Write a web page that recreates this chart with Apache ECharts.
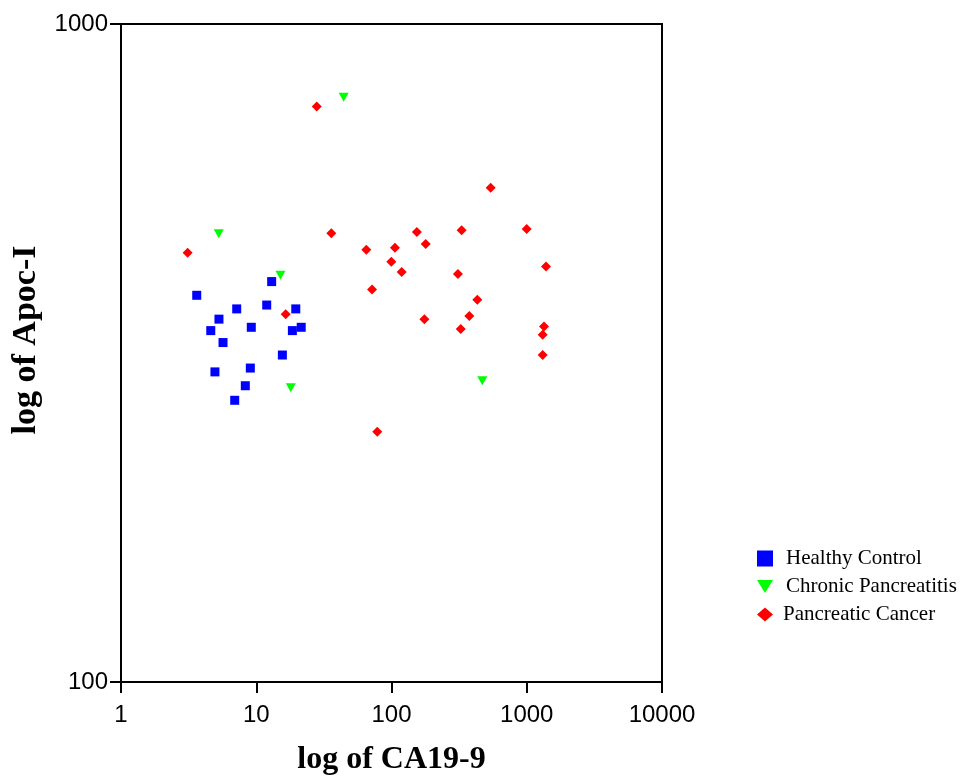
<!DOCTYPE html>
<html>
<head>
<meta charset="utf-8">
<script src="https://cdn.jsdelivr.net/npm/echarts@6/dist/echarts.min.js"></script>
<style>
html,body{margin:0;padding:0;background:#fff;}
#chart{width:965px;height:782px;}
</style>
</head>
<body>
<div id="chart"></div>
<script>
// Healthy Control
var hcX = [3.63, 13.0, 7.17, 11.95, 19.6, 5.30, 4.61, 9.19, 18.5, 21.5, 5.68, 15.6, 4.95, 9.04, 8.30, 6.93];
var hcY = [387, 406, 369, 374, 369, 356, 342, 346, 342, 346, 328, 314, 296, 300, 282, 268];
// Chronic Pancreatitis
var cpX = [5.28, 15.1, 18.0, 44.3, 469];
var cpY = [480, 415, 280, 774, 287];
// Pancreatic Cancer
var pcX = [3.11, 16.5, 28.0, 541, 35.9, 154, 330, 999, 65.1, 106, 179, 99.7, 119, 310, 1388, 71.8, 431, 376, 175, 325, 1341, 1312, 1312, 78.5];
var pcY = [449, 362, 749, 564, 481, 483, 486, 488, 454, 457, 463, 435, 420, 417, 428, 395, 381, 360, 356, 344, 347, 337, 314, 240];

var seriesNames = ['Healthy Control', 'Chronic Pancreatitis', 'Pancreatic Cancer'];
var xName = 'log of CA19-9';
var yName = 'log of Apoc-I';

function pairs(xs, ys) { return xs.map(function (x, i) { return [x, ys[i]]; }); }

var triPath = 'path://M0,0L16,0L8,13Z';

var chart = echarts.init(document.getElementById('chart'), null, {renderer: 'canvas'});
var labelFmt = function (v) { return String(Math.round(v)); };
chart.setOption({
  backgroundColor: '#ffffff',
  animation: false,
  grid: {left: 121, right: 303, top: 24, bottom: 100, show: true, borderColor: '#000', borderWidth: 2, backgroundColor: 'transparent'},
  xAxis: {
    type: 'log', logBase: 10, min: 1, max: 10000,
    name: xName, nameLocation: 'middle', nameGap: 62,
    nameTextStyle: {fontFamily: 'Liberation Serif', fontWeight: 'bold', fontSize: 32, color: '#000'},
    axisLine: {show: true, lineStyle: {color: '#000', width: 2}},
    axisTick: {show: true, length: 11, lineStyle: {color: '#000', width: 2}},
    minorTick: {show: false},
    splitLine: {show: false},
    axisLabel: {formatter: labelFmt, fontFamily: 'Liberation Sans', fontSize: 24, color: '#000', margin: 21}
  },
  yAxis: {
    type: 'log', logBase: 10, min: 100, max: 1000,
    name: yName, nameLocation: 'middle', nameGap: 76,
    nameTextStyle: {fontFamily: 'Liberation Serif', fontWeight: 'bold', fontSize: 34, color: '#000', padding: [0, 0, 0, 26]},
    axisLine: {show: true, lineStyle: {color: '#000', width: 2}},
    axisTick: {show: true, length: 11, lineStyle: {color: '#000', width: 2}},
    minorTick: {show: false},
    splitLine: {show: false},
    axisLabel: {formatter: labelFmt, fontFamily: 'Liberation Sans', fontSize: 24, color: '#000', margin: 13}
  },
  legend: {
    orient: 'vertical', left: 752, top: 543,
    itemWidth: 16, itemHeight: 16, itemGap: 7,
    textStyle: {fontFamily: 'Liberation Serif', fontSize: 21, color: '#000', padding: [0, 0, 0, 8]},
    data: [
      {name: seriesNames[0], icon: 'rect'},
      {name: seriesNames[1], icon: triPath},
      {name: seriesNames[2], icon: 'path://M0,6.5L7.5,0L15,6.5L7.5,13Z', textStyle: {padding: [0, 0, 0, 5]}}
    ]
  },
  series: [
    {name: seriesNames[0], type: 'scatter', symbol: 'rect', symbolSize: 9,
     itemStyle: {color: '#0000FF', opacity: 1}, data: pairs(hcX, hcY)},
    {name: seriesNames[1], type: 'scatter', symbol: triPath, symbolSize: [10, 9],
     itemStyle: {color: '#00FF00', opacity: 1}, data: pairs(cpX, cpY)},
    {name: seriesNames[2], type: 'scatter', symbol: 'diamond', symbolSize: 10,
     itemStyle: {color: '#FF0000', opacity: 1}, data: pairs(pcX, pcY)}
  ]
});
</script>
</body>
</html>
